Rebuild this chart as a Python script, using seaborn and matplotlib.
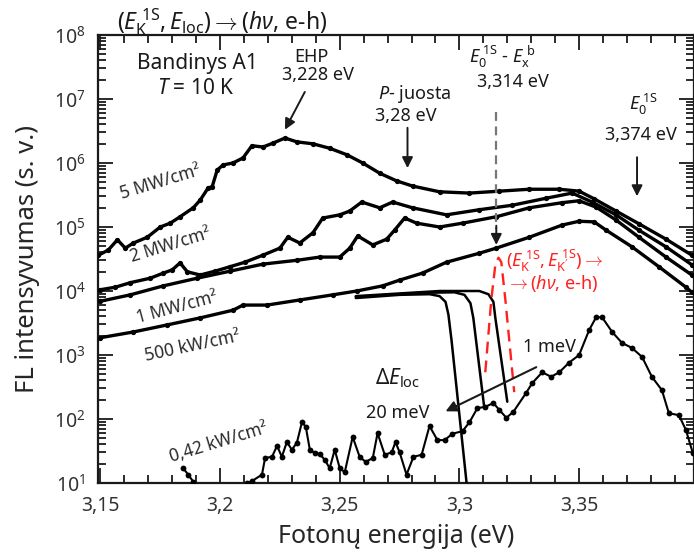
import numpy as np
import matplotlib
matplotlib.use("Agg")
import matplotlib.pyplot as plt
from matplotlib.ticker import MultipleLocator, LogLocator, FixedLocator, FixedFormatter, NullFormatter
import seaborn as sns

# ---------------- data (energy in eV, intensity as log10 of a.u.) ----------------
e_5mw = [3.1492,3.1533,3.1571,3.1604,3.1638,3.1696,3.175,3.1792,3.1833,3.1888,3.1917,3.195,3.1967,3.1988,3.2013,
         3.2054,3.2096,3.2133,3.2179,3.2221,3.2271,3.2321,3.2388,3.2458,3.2529,3.2596,3.2667,3.2738,3.2804,3.2917,
         3.3042,3.3167,3.3292,3.3417,3.35,3.3563,3.3654,3.375,3.3863,3.3971]
lg_5mw = [4.56,4.64,4.80,4.67,4.75,4.84,5.00,5.06,5.16,5.30,5.42,5.61,5.63,5.89,5.97,
          6.00,6.08,6.27,6.25,6.31,6.39,6.33,6.30,6.23,6.13,6.00,5.84,5.72,5.64,5.55,
          5.53,5.56,5.59,5.59,5.56,5.44,5.25,5.05,4.81,4.56]

e_2mw = [3.15,3.1563,3.1625,3.1708,3.1763,3.18,3.1833,3.1863,3.1917,3.1979,3.2042,3.2104,3.2179,3.225,3.2283,
         3.2333,3.2388,3.2429,3.25,3.2542,3.2592,3.2667,3.2721,3.2804,3.2946,3.3083,3.3221,3.3363,3.3471,3.3554,
         3.3654,3.375,3.3863,3.3971]
lg_2mw = [4.02,4.06,4.13,4.20,4.28,4.33,4.44,4.30,4.25,4.31,4.38,4.45,4.56,4.67,4.84,
          4.75,4.91,5.14,5.19,5.25,5.39,5.30,5.39,5.30,5.19,5.27,5.34,5.45,5.53,5.39,
          5.19,4.95,4.69,4.41]

e_1mw = [3.15,3.1625,3.1763,3.1904,3.2042,3.2179,3.2321,3.2417,3.25,3.2542,3.2575,3.2638,3.2696,3.2729,3.2771,
         3.2821,3.2917,3.3013,3.3154,3.3292,3.3429,3.35,3.3571,3.3654,3.375,3.3863,3.3971]
lg_1mw = [3.84,3.94,4.08,4.20,4.31,4.42,4.48,4.53,4.53,4.67,4.86,4.72,4.81,4.95,5.14,
          5.06,5.00,5.06,5.16,5.30,5.38,5.41,5.31,5.11,4.84,4.53,4.25]

e_500kw = [3.15,3.1638,3.1779,3.1917,3.2054,3.2096,3.2196,3.2333,3.2471,3.2571,3.2679,3.275,3.2846,3.2946,3.3083,
           3.3154,3.3292,3.3429,3.35,3.3563,3.3613,3.3721,3.3833,3.3946,3.3971]
lg_500kw = [3.27,3.36,3.47,3.58,3.70,3.78,3.78,3.86,3.94,4.00,4.08,4.17,4.28,4.45,4.59,
            4.67,4.84,5.03,5.09,5.08,4.95,4.69,4.38,4.06,3.98]

e_042kw = [3.1846,3.1867,3.1888,3.1917,3.2083,3.2113,3.2133,3.2175,3.2188,3.2217,3.2238,3.2258,3.2279,3.23,3.2321,
           3.2342,3.2358,3.2375,3.2396,3.2417,3.2438,3.2458,3.2479,3.25,3.2521,3.2554,3.2583,3.2608,3.2638,3.2658,
           3.2688,3.2717,3.2733,3.275,3.2779,3.2808,3.2842,3.2875,3.2908,3.2938,3.2971,3.3013,3.3042,3.3075,3.3108,
           3.3142,3.3167,3.3196,3.3225,3.3279,3.3304,3.3346,3.3383,3.3417,3.3458,3.35,3.3542,3.3571,3.3596,3.3638,
           3.3679,3.3721,3.3763,3.3804,3.3846,3.3875,3.3917,3.3946,3.3975]
lg_042kw = [1.23,1.13,1.02,0.73,0.73,1.00,1.03,1.13,1.39,1.41,1.58,1.41,1.64,1.52,1.63,
            1.95,1.88,1.52,1.47,1.45,1.36,1.23,1.52,1.23,1.17,1.72,1.41,1.33,1.39,1.78,
            1.44,1.48,1.64,1.48,1.13,1.41,1.44,1.89,1.67,1.67,1.77,1.81,1.95,2.17,2.19,
            2.25,2.14,2.02,2.11,2.41,2.56,2.73,2.66,2.73,2.88,3.00,3.39,3.59,3.59,3.36,
            3.19,3.11,2.97,2.66,2.45,2.09,2.06,1.83,1.47]

# schematic localisation-energy curves (Delta E_loc)
loc_a_e = [3.2567,3.275,3.2875,3.2917,3.2942,3.2954,3.2967,3.3033]
loc_a_lg = [3.89,3.94,3.95,3.92,3.83,3.63,3.23,0.89]
loc_b_e = [3.2567,3.2833,3.2979,3.3021,3.3046,3.3058,3.3104]
loc_b_lg = [3.91,3.97,3.98,3.94,3.81,3.58,2.17]
loc_c_e = [3.2567,3.2917,3.3083,3.3121,3.3142,3.315,3.32]
loc_c_lg = [3.92,4.00,4.00,3.95,3.83,3.58,2.27]
red_e = [3.3108,3.3133,3.315,3.3163,3.3175,3.3192,3.3229]
red_lg = [2.73,3.86,4.41,4.52,4.45,3.86,2.42]

# arrows (tail -> tip)
ehp_arrow_e, ehp_arrow_lg = [3.2354, 3.2271], [7.11, 6.52]
p_arrow_e, p_arrow_lg = [3.2783, 3.2783], [6.55, 5.92]
e0_arrow_e, e0_arrow_lg = [3.3742, 3.3742], [6.09, 5.48]
exb_line_e, exb_line_lg = [3.3154, 3.3154], [6.80, 4.72]
dloc_arrow_e, dloc_arrow_lg = [3.3321, 3.2942], [2.81, 2.12]

x_ticks = [3.15, 3.2, 3.25, 3.3, 3.35]
x_tick_labels = ["3,15", "3,2", "3,25", "3,3", "3,35"]

# ---------------- style ----------------
sns.set_style("ticks")
FONT = "Noto Sans"
plt.rcParams["font.family"] = [FONT, "DejaVu Sans"]
plt.rcParams["mathtext.fontset"] = "custom"
plt.rcParams["mathtext.rm"] = FONT
plt.rcParams["mathtext.it"] = FONT + ":italic"
plt.rcParams["mathtext.bf"] = FONT + ":bold"
plt.rcParams["text.color"] = "#1a1a1a"

fig = plt.figure(figsize=(6.94, 5.58), dpi=100)
ax = fig.add_axes([98/694, 1-483/558, (694-98)/694, (483-35)/558])

def L(v):
    return 10 ** np.asarray(v, dtype=float)

curve_kw = dict(color="black", lw=2.4, marker="o", markersize=3.8, markeredgewidth=0,
                sort=False, estimator=None, zorder=3)
for e, lg in [(e_5mw, lg_5mw), (e_2mw, lg_2mw), (e_1mw, lg_1mw), (e_500kw, lg_500kw)]:
    sns.lineplot(x=e, y=L(lg), ax=ax, **curve_kw)
sns.lineplot(x=e_042kw, y=L(lg_042kw), ax=ax, color="black", lw=1.5, marker="o", markersize=4.2,
             markeredgewidth=0, sort=False, estimator=None, zorder=3)

for e, lg in [(loc_a_e, loc_a_lg), (loc_b_e, loc_b_lg), (loc_c_e, loc_c_lg)]:
    sns.lineplot(x=e, y=L(lg), ax=ax, color="black", lw=1.8, sort=False, estimator=None, zorder=4)
sns.lineplot(x=red_e, y=L(red_lg), ax=ax, color="#ff2020", lw=1.7, sort=False, estimator=None,
             zorder=4, dashes=False, linestyle=(0, (5, 3)))

# gray dashed marker line with arrowhead
ax.plot([exb_line_e[0], exb_line_e[1]], [L(exb_line_lg[0]), L(exb_line_lg[1] + 0.25)],
        color="#777777", lw=1.6, ls=(0, (4, 2.5)), zorder=4)
def arrow(e, lg, lw=1.4, ms=16, color="#1a1a1a"):
    ax.annotate("", xy=(e[1], L(lg[1])), xytext=(e[0], L(lg[0])),
                arrowprops=dict(arrowstyle="-|>", color=color, lw=lw, mutation_scale=ms,
                                shrinkA=0, shrinkB=0), zorder=5)
arrow([exb_line_e[0], exb_line_e[1]], [exb_line_lg[1] + 0.3, exb_line_lg[1]])
arrow(ehp_arrow_e, ehp_arrow_lg)
arrow(p_arrow_e, p_arrow_lg)
arrow(e0_arrow_e, e0_arrow_lg)
arrow(dloc_arrow_e, dloc_arrow_lg, lw=1.5)

# ---------------- axes ----------------
ax.set_yscale("log")
ax.set_xlim(3.149, 3.398)
ax.set_ylim(10, 1e8)
ax.xaxis.set_major_locator(FixedLocator(x_ticks))
ax.xaxis.set_major_formatter(FixedFormatter(x_tick_labels))
ax.xaxis.set_minor_locator(MultipleLocator(0.01))
ax.yaxis.set_major_locator(FixedLocator(L([1, 2, 3, 4, 5, 6, 7, 8])))
ax.yaxis.set_minor_locator(LogLocator(base=10, subs=np.arange(2, 10), numticks=12))
ax.yaxis.set_minor_formatter(NullFormatter())
ax.tick_params(which="both", direction="in", top=True, right=True, width=1.3, color="#1a1a1a",
               labelsize=14, labelcolor="#333333")
ax.tick_params(which="major", length=10.5, pad=9)
ax.tick_params(which="minor", length=5.5)
for s in ax.spines.values():
    s.set_linewidth(1.6)
    s.set_color("#1a1a1a")

ax.set_xlabel("Fotonų energija (eV)", fontsize=18, labelpad=6)
ax.set_ylabel("FL intensyvumas (s. v.)", fontsize=18.5, labelpad=10)

# ---------------- texts ----------------
fig.text(222/694, 1-22/558, r"$(E_{\mathrm{K}}^{\;\mathrm{1S}}, E_{\mathrm{loc}}) \rightarrow (h\nu$, e-h)",
         fontsize=16.5, ha="center", va="center")
ax.text(3.1904, L(7.55), "Bandinys A1", fontsize=15, ha="center", va="center")
ax.text(3.1896, L(7.17), r"$T$ = 10 K", fontsize=15, ha="center", va="center")
ax.text(3.2383, L(7.66), "EHP", fontsize=13, ha="center", va="center")
ax.text(3.2408, L(7.37), "3,228 eV", fontsize=13, ha="center", va="center")
ax.text(3.2813, L(7.08), r"$P$- juosta", fontsize=13, ha="center", va="center")
ax.text(3.2775, L(6.73), "3,28 eV", fontsize=13, ha="center", va="center")
ax.text(3.3179, L(7.66), r"$E_0^{\;\mathrm{1S}}$ - $E_{\mathrm{x}}^{\;\mathrm{b}}$", fontsize=13, ha="center", va="center")
ax.text(3.3225, L(7.27), "3,314 eV", fontsize=13, ha="center", va="center")
ax.text(3.3771, L(6.91), r"$E_0^{\;\mathrm{1S}}$", fontsize=13, ha="center", va="center")
ax.text(3.3758, L(6.44), "3,374 eV", fontsize=13, ha="center", va="center")

lab_kw = dict(fontsize=12.5, ha="center", va="center", rotation_mode="anchor", color="#2a2a2a")
ax.text(3.175, L(5.70), "5 MW/cm²", rotation=17, **lab_kw)
ax.text(3.1792, L(4.72), "2 MW/cm²", rotation=17, **lab_kw)
ax.text(3.1821, L(3.75), "1 MW/cm²", rotation=15, **lab_kw)
ax.text(3.1883, L(3.14), "500 kW/cm²", rotation=12, **lab_kw)
ax.text(3.1992, L(1.63), "0,42 kW/cm²", rotation=17, **lab_kw)

ax.text(3.2742, L(2.64), r"$\Delta E_{\mathrm{loc}}$", fontsize=15, ha="center", va="center")
ax.text(3.2742, L(2.10), "20 meV", fontsize=13, ha="center", va="center")
ax.text(3.3375, L(3.13), "1 meV", fontsize=13, ha="center", va="center")
ax.text(3.3195, L(4.48), r"$(E_{\mathrm{K}}^{\;\mathrm{1S}}, E_{\mathrm{K'}}^{\;\mathrm{1S}})\rightarrow$",
        fontsize=13, ha="left", va="center", color="#ff2020")
ax.text(3.3195, L(4.11), r"$\rightarrow(h\nu$, e-h)", fontsize=13, ha="left", va="center", color="#ff2020")

fig.savefig("out.png", dpi=100)
